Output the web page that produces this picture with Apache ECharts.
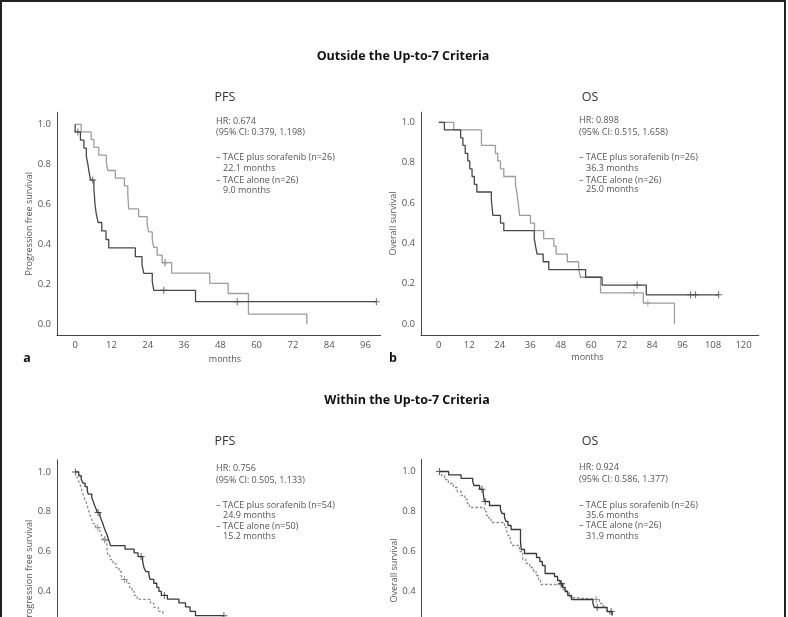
<!DOCTYPE html>
<html><head><meta charset="utf-8">
<script src="https://cdn.jsdelivr.net/npm/echarts@6/dist/echarts.min.js"></script>
<style>html,body{margin:0;padding:0;background:#fff}#c{width:788px;height:617px}</style>
</head><body><div id="c"></div><script>
// ---------- tick labels ----------
const monthTicksPFS = [0, 12, 24, 36, 48, 60, 72, 84, 96];
const monthTicksOS = [0, 12, 24, 36, 48, 60, 72, 84, 96, 108, 120];
const survTicks = [0, 0.2, 0.4, 0.6, 0.8, 1.0];

// ---------- Panel a: PFS outside up-to-7 ----------
const aSoraT = [0, 2.0, 5.3, 6.2, 7.8, 10.3, 10.8, 13.3, 16.3, 17.4, 17.55, 17.7, 21.0, 23.8, 24.3, 25.5, 26.0, 27.1, 28.8, 31.9, 44.5, 50.6, 57.3, 76.6];
const aSoraS = [1, 0.962, 0.923, 0.885, 0.846, 0.808, 0.769, 0.731, 0.692, 0.654, 0.615, 0.577, 0.538, 0.5, 0.462, 0.423, 0.385, 0.346, 0.308, 0.256, 0.205, 0.154, 0.051, 0];
const aSoraCensT = [29.6, 29.9];
const aSoraCensS = [0.308, 0.308];
const aAloneT = [0, 0, 1.75, 2.9, 3.7, 4.2, 4.6, 5.1, 6.2, 6.4, 6.6, 7.0, 7.6, 8.8, 10.2, 11.1, 19.9, 22.1, 22.7, 25.5, 26.0, 39.8, 99.6];
const aAloneS = [1, 0.962, 0.921, 0.881, 0.841, 0.801, 0.761, 0.721, 0.679, 0.636, 0.594, 0.551, 0.509, 0.467, 0.424, 0.382, 0.338, 0.297, 0.255, 0.213, 0.17, 0.113, 0.113];
const aAloneCensT = [0.9, 5.8, 29.3, 53.6, 99.6];
const aAloneCensS = [0.962, 0.721, 0.17, 0.113, 0.113];

// ---------- Panel b: OS outside up-to-7 ----------
const bSoraT = [0, 5.9, 16.8, 22.3, 23.2, 24.3, 25.6, 30.2, 30.7, 31.1, 31.5, 31.8, 36.1, 37.7, 41.3, 45.3, 46.2, 50.6, 55.1, 55.8, 63.7, 80.5, 92.8];
const bSoraS = [1, 0.962, 0.885, 0.846, 0.808, 0.769, 0.731, 0.692, 0.654, 0.615, 0.577, 0.538, 0.5, 0.462, 0.423, 0.385, 0.346, 0.308, 0.269, 0.231, 0.154, 0.103, 0];
const bSoraCensT = [76.8, 82.3];
const bSoraCensS = [0.154, 0.103];
const bAloneT = [0, 2.2, 8.6, 9.5, 10.4, 11.4, 12.2, 13.1, 14.0, 15.0, 20.7, 21.0, 21.3, 24.3, 25.6, 37.6, 38.1, 38.7, 41.1, 43.3, 57.8, 64.3, 81.7, 110.2];
const bAloneS = [1, 0.962, 0.923, 0.885, 0.846, 0.808, 0.769, 0.731, 0.692, 0.654, 0.615, 0.577, 0.538, 0.5, 0.462, 0.423, 0.385, 0.346, 0.308, 0.269, 0.231, 0.192, 0.144, 0.144];
const bAloneCensT = [78.1, 99.1, 101.1, 110.2];
const bAloneCensS = [0.192, 0.144, 0.144, 0.144];

// ---------- Panel c: PFS within up-to-7 ----------
const cSoraT = [0, 1.2, 2.0, 2.6, 3.3, 4.0, 4.3, 5.5, 6.0, 6.4, 6.9, 7.3, 8.2, 8.7, 9.2, 9.6, 10.1, 10.6, 11.0, 11.4, 11.7, 16.5, 19.5, 20.8, 22.3, 22.5, 22.8, 23.4, 24.4, 24.8, 26.0, 27.0, 27.7, 28.5, 30.5, 34.3, 36.5, 38.0, 39.8, 49.2];
const cSoraS = [1, 0.981, 0.963, 0.944, 0.926, 0.907, 0.889, 0.870, 0.852, 0.833, 0.815, 0.796, 0.777, 0.758, 0.739, 0.720, 0.701, 0.682, 0.663, 0.644, 0.630, 0.612, 0.594, 0.575, 0.556, 0.537, 0.518, 0.499, 0.480, 0.460, 0.441, 0.420, 0.400, 0.380, 0.361, 0.342, 0.322, 0.300, 0.278, 0.278];
const cSoraCensT = [0.1, 7.6, 21.8, 29.5, 49.2];
const cSoraCensS = [1, 0.796, 0.575, 0.380, 0.278];
const cAloneT = [0, 0.5, 1.0, 1.5, 2.0, 2.3, 2.8, 3.3, 3.8, 4.2, 4.6, 5.0, 5.5, 6.0, 6.8, 8.2, 8.8, 9.3, 10.5, 10.8, 11.5, 12.5, 13.5, 14.5, 15.2, 15.8, 17.0, 18.0, 18.8, 19.5, 20.5, 24.9, 26.0, 27.5, 29.0];
const cAloneS = [1, 0.98, 0.96, 0.94, 0.92, 0.90, 0.88, 0.86, 0.84, 0.82, 0.80, 0.78, 0.76, 0.74, 0.72, 0.70, 0.68, 0.66, 0.62, 0.58, 0.56, 0.54, 0.52, 0.50, 0.48, 0.46, 0.44, 0.42, 0.40, 0.38, 0.36, 0.34, 0.32, 0.30, 0.28];
const cAloneCensT = [7.5, 9.7, 9.9, 16.3];
const cAloneCensS = [0.72, 0.66, 0.66, 0.46];

// ---------- Panel d: OS within up-to-7 ----------
const dSoraT = [0, 3.6, 8.5, 13.1, 13.6, 15.8, 17.2, 17.7, 19.7, 24.0, 24.6, 25.6, 26.2, 27.0, 28.2, 31.9, 32.2, 33.5, 38.2, 39.5, 40.5, 41.6, 45.3, 46.5, 47.5, 48.5, 49.5, 50.5, 52.0, 60.4, 61.0, 66.0, 68.0];
const dSoraS = [1, 0.983, 0.966, 0.948, 0.93, 0.911, 0.89, 0.85, 0.83, 0.81, 0.79, 0.77, 0.75, 0.73, 0.71, 0.65, 0.61, 0.59, 0.57, 0.55, 0.53, 0.49, 0.475, 0.455, 0.44, 0.42, 0.40, 0.38, 0.36, 0.34, 0.32, 0.30, 0.28];
const dSoraCensT = [0, 16.7, 18.0, 48.0, 62.1, 67.6];
const dSoraCensS = [1, 0.911, 0.85, 0.44, 0.32, 0.30];
const dAloneT = [0, 0.8, 2.0, 3.5, 5.5, 7.0, 8.5, 10.0, 11.0, 11.8, 17.7, 18.5, 19.5, 20.4, 25.6, 26.5, 27.0, 27.8, 28.5, 31.5, 32.8, 34.0, 35.5, 37.0, 38.0, 39.0, 39.8, 48.5, 50.0, 51.5, 53.0, 63.0, 64.5, 66.0, 67.0];
const dAloneS = [1, 0.98, 0.96, 0.94, 0.92, 0.90, 0.88, 0.86, 0.84, 0.82, 0.80, 0.78, 0.76, 0.745, 0.72, 0.70, 0.68, 0.66, 0.63, 0.60, 0.56, 0.54, 0.52, 0.50, 0.48, 0.455, 0.435, 0.41, 0.39, 0.37, 0.36, 0.34, 0.32, 0.30, 0.28];
const dAloneCensT = [47.8, 61.7];
const dAloneCensS = [0.435, 0.36];

// ---------- helpers ----------
const zip = (T, S) => T.map((t, i) => [t, S[i]]);
const FONT = 'Open Sans';
const LIGHT = '#9d9d9d', DARK = '#484848', SOLID = '#383838', DASH = '#8c8c8c';
const AXIS = '#444';
const plus = 'path://M3,0L4,0L4,3L7,3L7,4L4,4L4,7L3,7L3,4L0,4L0,3L3,3Z';

function xAx(gi, min, max, ticks) {
  return {
    type: 'value', gridIndex: gi, min: min, max: max,
    axisLine: { show: true, onZero: false, lineStyle: { color: AXIS, width: 1 } },
    axisTick: { show: false }, splitLine: { show: false },
    axisLabel: { customValues: ticks, color: '#555', fontSize: 9.5, fontFamily: FONT, margin: 5 }
  };
}
function yAx(gi, min, max, name) {
  return {
    type: 'value', gridIndex: gi, min: min, max: max,
    name: name, nameLocation: 'middle', nameGap: 23,
    nameTextStyle: { color: '#555', fontSize: 9, fontFamily: FONT },
    axisLine: { show: true, onZero: false, lineStyle: { color: AXIS, width: 1 } },
    axisTick: { show: false }, splitLine: { show: false },
    axisLabel: { customValues: survTicks, color: '#555', fontSize: 9.5, fontFamily: FONT, margin: 6,
      padding: [7, 0, 0, 0], formatter: v => v.toFixed(1) }
  };
}
function curve(gi, T, S, color, dashed) {
  return { type: 'line', xAxisIndex: gi, yAxisIndex: gi, step: 'end', data: zip(T, S),
    showSymbol: false, symbol: 'none', silent: true, animation: false, clip: true,
    lineStyle: { color: color, width: 1.3, type: dashed ? [2.5, 2] : 'solid' } };
}
function cens(gi, T, S, color) {
  return { type: 'scatter', xAxisIndex: gi, yAxisIndex: gi, data: zip(T, S), symbol: plus,
    symbolSize: 7, silent: true, animation: false, itemStyle: { color: color } };
}
function txt(x, y, s, opt) {
  opt = opt || {};
  return { type: 'text', x: x, y: y, silent: true, style: {
    text: s, fill: opt.fill || '#555', fontSize: opt.size || 9, fontFamily: FONT,
    fontWeight: opt.weight || 'normal', align: opt.align || 'left', verticalAlign: 'middle' } };
}
function hrBlock(x, ys, lines) {
  return lines.map((s, i) => txt(x + (i === 3 || i === 5 ? 7 : 0), ys[i], s));
}
function grid(left, top, width, height) {
  return { left: left, top: top, width: width, height: height, outerBoundsMode: 'none', containLabel: false };
}

const chart = echarts.init(document.getElementById('c'), null, { renderer: 'canvas' });
chart.setOption({
  backgroundColor: '#fff',
  animation: false,
  grid: [
    grid(57, 112.3, 323.6, 223),
    grid(421, 112.2, 337.8, 222.7),
    grid(57, 460, 323.6, 223),
    grid(421.7, 459.5, 337.8, 222)
  ],
  xAxis: [
    xAx(0, -6, 101, monthTicksPFS), xAx(1, -7, 126, monthTicksOS),
    xAx(2, -6, 101, monthTicksPFS), xAx(3, -7, 126, monthTicksOS)
  ],
  yAxis: [
    yAx(0, -0.055, 1.06, 'Progression free survival'), yAx(1, -0.055, 1.05, 'Overall survival'),
    yAx(2, -0.06, 1.06, 'Progression free survival'), yAx(3, -0.05, 1.06, 'Overall survival')
  ],
  series: [
    curve(0, aSoraT, aSoraS, LIGHT), curve(0, aAloneT, aAloneS, DARK),
    cens(0, aSoraCensT, aSoraCensS, LIGHT), cens(0, aAloneCensT, aAloneCensS, DARK),
    curve(1, bSoraT, bSoraS, LIGHT), curve(1, bAloneT, bAloneS, DARK),
    cens(1, bSoraCensT, bSoraCensS, LIGHT), cens(1, bAloneCensT, bAloneCensS, DARK),
    curve(2, cAloneT, cAloneS, DASH, true), curve(2, cSoraT, cSoraS, SOLID),
    cens(2, cAloneCensT, cAloneCensS, DASH), cens(2, cSoraCensT, cSoraCensS, SOLID),
    curve(3, dAloneT, dAloneS, DASH, true), curve(3, dSoraT, dSoraS, SOLID),
    cens(3, dAloneCensT, dAloneCensS, DASH), cens(3, dSoraCensT, dSoraCensS, SOLID)
  ],
  graphic: [
    { type: 'rect', silent: true, shape: { x: 1, y: 1, width: 784, height: 640 },
      style: { fill: 'none', stroke: '#222', lineWidth: 2 } },
    txt(403, 56, 'Outside the Up-to-7 Criteria', { size: 12.5, weight: 'bold', fill: '#111', align: 'center' }),
    txt(225, 97, 'PFS', { size: 12.5, fill: '#333', align: 'center' }),
    txt(590, 97, 'OS', { size: 12.5, fill: '#333', align: 'center' }),
    txt(407, 400, 'Within the Up-to-7 Criteria', { size: 12.5, weight: 'bold', fill: '#111', align: 'center' }),
    txt(225, 441, 'PFS', { size: 12.5, fill: '#333', align: 'center' }),
    txt(590, 441, 'OS', { size: 12.5, fill: '#333', align: 'center' }),
    ...hrBlock(216, [121.7, 132.3, 157.7, 168.3, 180, 190],
      ['HR: 0.674', '(95% CI: 0.379, 1.198)', '\u2013 TACE plus sorafenib (n=26)', '22.1 months', '\u2013 TACE alone (n=26)', '9.0 months']),
    ...hrBlock(579, [120.7, 132.3, 157.3, 168.3, 180, 189.3],
      ['HR: 0.898', '(95% CI: 0.515, 1.658)', '\u2013 TACE plus sorafenib (n=26)', '36.3 months', '\u2013 TACE alone (n=26)', '25.0 months']),
    ...hrBlock(216, [468.3, 480, 505, 515.7, 526, 536.7],
      ['HR: 0.756', '(95% CI: 0.505, 1.133)', '\u2013 TACE plus sorafenib (n=54)', '24.9 months', '\u2013 TACE alone (n=50)', '15.2 months']),
    ...hrBlock(579, [467.3, 479.3, 505, 515.7, 525.7, 536.7],
      ['HR: 0.924', '(95% CI: 0.586, 1.377)', '\u2013 TACE plus sorafenib (n=26)', '35.6 months', '\u2013 TACE alone (n=26)', '31.9 months']),
    txt(225, 359, 'months', { size: 9, align: 'center' }),
    txt(587.5, 357, 'months', { size: 9, align: 'center' }),
    txt(27, 358, 'a', { size: 12.5, weight: 'bold', fill: '#111', align: 'center' }),
    txt(393, 358, 'b', { size: 12.5, weight: 'bold', fill: '#111', align: 'center' })
  ]
});
</script></body></html>
